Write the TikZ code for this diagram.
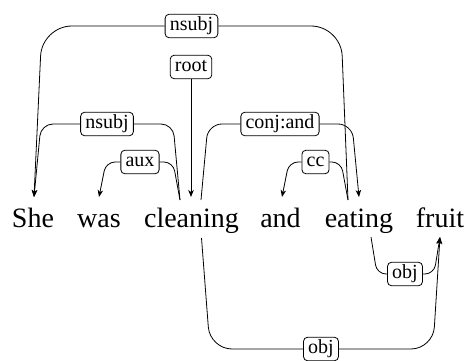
\documentclass[tikz,border=0pt]{standalone}
\usepackage{fontspec}
\setmainfont{Liberation Serif}
\usetikzlibrary{arrows.meta}
\begin{document}
\begin{tikzpicture}[x=1pt,y=-1pt,
  word/.style={anchor=base, inner sep=0pt, font=\fontsize{28}{32}\selectfont},
  deplabel/.style={draw, rounded corners=4pt, fill=white, line width=0.8pt,
    inner xsep=4.7pt, inner ysep=2.5pt, text height=13.5pt, text depth=5pt,
    font=\fontsize{20}{24}\selectfont},
  edgeline/.style={draw, line width=0.8pt},
  edgearrow/.style={edgeline, -{Stealth[length=7pt,width=5.5pt,inset=2pt]}},
]
\useasboundingbox (0,0) rectangle (467,361);

% words
\node[word] (w1) at (33,228) {She};
\node[word] (w2) at (99,228) {was};
\node[word] (w3) at (191.5,228) {cleaning};
\node[word] (w4) at (280.5,228) {and};
\node[word] (w5) at (359,228) {eating};
\node[word] (w6) at (440,228) {fruit};

% edge end points
\coordinate (t-she) at (34,197);
\coordinate (t-was) at (99,197);
\coordinate (t-clean) at (191,197);
\coordinate (t-and) at (282,197);
\coordinate (t-eat) at (359,197);
\coordinate (t-fruit) at (440,237);
\coordinate (s-cleanL) at (180,200);
\coordinate (s-cleanR) at (201,200);
\coordinate (s-eat) at (348,200);
\coordinate (s-cleanB) at (201.5,238);
\coordinate (s-eatB) at (371,237);

% labels
\node[deplabel] (l-nsubj1) at (191.5,26) {nsubj};
\node[deplabel] (l-root) at (191,67) {root};
\node[deplabel] (l-nsubj2) at (107,124) {nsubj};
\node[deplabel] (l-conj) at (280,124) {conj:and};
\node[deplabel] (l-aux) at (140,162) {aux};
\node[deplabel] (l-cc) at (315.5,162) {cc};
\node[deplabel] (l-obj1) at (405,274) {obj};
\node[deplabel] (l-obj2) at (321,349) {obj};

% top nsubj: eating -> She
\draw[edgeline, rounded corners=30pt] (s-eat) -- (341,26) -- (l-nsubj1.east);
\draw[edgearrow, rounded corners=30pt] (l-nsubj1.west) -- (42,26) -- (t-she);
% root
\draw[edgearrow] (l-root.south) -- (t-clean);
% lower nsubj: cleaning -> She
\draw[edgeline, rounded corners=12pt] (s-cleanL) -- (173,124) -- (l-nsubj2.east);
\draw[edgearrow, rounded corners=12pt] (l-nsubj2.west) -- (41,124) -- (t-she);
% aux: cleaning -> was
\draw[edgeline, rounded corners=9pt] (s-cleanL) -- (173,162) -- (l-aux.east);
\draw[edgearrow, rounded corners=9pt] (l-aux.west) -- (106,162) -- (t-was);
% conj:and: cleaning -> eating
\draw[edgeline, rounded corners=14pt] (s-cleanR) -- (208,124) -- (l-conj.west);
\draw[edgearrow, rounded corners=14pt] (l-conj.east) -- (352,124) -- (t-eat);
% cc: eating -> and
\draw[edgeline, rounded corners=9pt] (s-eat) -- (341,162) -- (l-cc.east);
\draw[edgearrow, rounded corners=9pt] (l-cc.west) -- (289,162) -- (t-and);
% obj: eating -> fruit (below)
\draw[edgeline, rounded corners=9pt] (s-eatB) -- (377,274) -- (l-obj1.west);
\draw[edgearrow, rounded corners=9pt] (l-obj1.east) -- (434,274) -- (t-fruit);
% obj: cleaning -> fruit (below)
\draw[edgeline, rounded corners=22pt] (s-cleanB) -- (210,349) -- (l-obj2.west);
\draw[edgearrow, rounded corners=22pt] (l-obj2.east) -- (433,349) -- (t-fruit);
\end{tikzpicture}
\end{document}
